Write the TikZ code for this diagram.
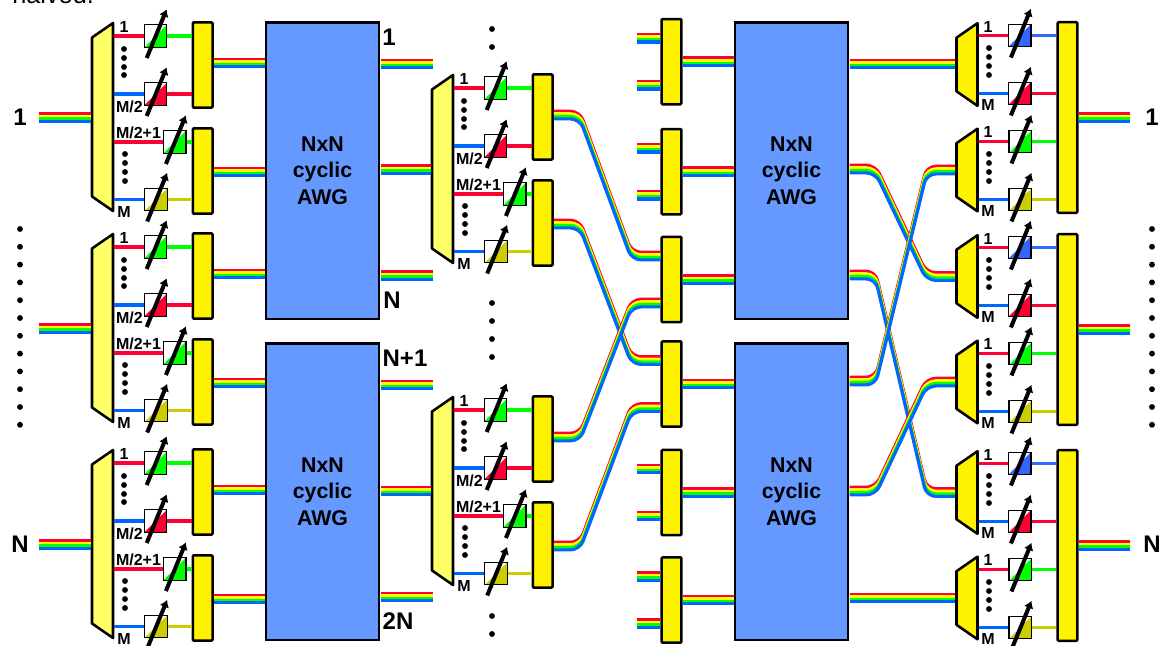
\documentclass[tikz,border=0pt]{standalone}
\usepackage{fontspec}
\setmainfont{Liberation Sans}
\usetikzlibrary{arrows.meta,calc}
\definecolor{bandred}{RGB}{255,0,51}
\definecolor{bandyellow}{RGB}{255,255,0}
\definecolor{bandgreen}{RGB}{0,255,0}
\definecolor{bandblue}{RGB}{0,102,255}
\definecolor{voablue}{RGB}{51,102,255}
\definecolor{voaolive}{RGB}{204,204,0}
\definecolor{awgblue}{RGB}{102,153,255}
\definecolor{paleyellow}{RGB}{255,255,102}
\newcommand{\bandlist}{bandred/2.9pt/2.2pt,bandyellow/0.97pt/2.2pt,bandgreen/-0.97pt/2.2pt,bandblue/-2.9pt/2.4pt}
\newcommand{\inband}[2]{%
  \path (#1 -| #2) coordinate (bandend);
  \foreach \bandc/\bando/\bandw in \bandlist
    \draw[draw=\bandc, line width=\bandw] ([yshift=\bando]#1) -- ([yshift=\bando]bandend);
}
\newcommand{\swerve}[2]{%
  \foreach \bandc/\bando/\bandw in \bandlist
    \draw[draw=\bandc, line width=\bandw, rounded corners=7pt] ([yshift=\bando]#1)
      -- ([xshift=19.5pt,yshift=\bando]#1) -- ([xshift=-21.5pt,yshift=\bando]#2) -- ([yshift=\bando]#2);
}
\newcommand{\tunable}[3]{%
  \node[voabox=#3] (#1) at (#2) {};
  \draw[tuner] ([shift={(-8.8,22)}]#1.center) -- ([shift={(11.2,-26.7)}]#1.center);
}
\newcommand{\taper}[4]{%
  \node[demux, minimum height=#3] (#1) at (#2) {};
  \filldraw[demuxline, fill=#4] (#1.north east) -- (#1.south east)
    -- ([yshift=10.9pt]#1.south west) -- ([yshift=-10.9pt]#1.north west) -- cycle;
  \coordinate (#1w) at ([xshift=-0.95pt]#1.west);
  \coordinate (#1e) at ([xshift=0.95pt]#1.east);
}
\newcommand{\ingroup}[3]{%
  \begin{scope}[shift={(#2,#3)}]
  \taper{#1d}{102.5,117}{141pt}{paleyellow}
  \node[muxbox] (#1ma) at (202.7,65) {};
  \node[muxbox] (#1mb) at (202.7,171) {};
  \tunable{#1va}{155.5,36}{bandgreen}
  \tunable{#1vb}{155.5,94}{bandred}
  \tunable{#1vc}{174.7,142}{bandgreen}
  \tunable{#1vd}{156,199.5}{voaolive}
  \draw[sig, draw=bandred] (#1de |- #1va.west) -- (#1va.west);
  \draw[sig, draw=bandblue] (#1de |- #1vb.west) -- (#1vb.west);
  \draw[sig, draw=bandred] (#1de |- #1vc.west) -- (#1vc.west);
  \draw[sig, draw=bandblue] (#1de |- #1vd.west) -- (#1vd.west);
  \draw[sig, draw=bandgreen] (#1va.east) -- (#1va.east -| #1ma.west);
  \draw[sig, draw=bandred] (#1vb.east) -- (#1vb.east -| #1ma.west);
  \draw[sig, draw=bandgreen] (#1vc.east) -- (#1vc.east -| #1mb.west);
  \draw[sig, draw=voaolive] (#1vd.east) -- (#1vd.east -| #1mb.west);
  \node[lbl] (#1la) at (124,27) {1};
  \node[lbl] (#1lb) at (129.5,107) {M/2};
  \node[lbl] (#1lc) at (138.5,133) {M/2+1};
  \node[lbl] (#1ld) at (124,212) {M};
  \foreach \y [count=\i] in {49,58,67,75} \node[blob] (#1ua\i) at (124,\y) {};
  \foreach \y [count=\i] in {154,163,172,181} \node[blob] (#1ub\i) at (125,\y) {};
  \coordinate (#1oa) at ([yshift=1.5pt]#1ma.east);
  \coordinate (#1ob) at ([yshift=-0.75pt]#1mb.east);
  \end{scope}
}
\newcommand{\outgroup}[3]{%
  \begin{scope}[shift={(#2,#3)}]
  \taper{#1da}{967,64.5}{62pt}{yellow}
  \taper{#1db}{967,170}{62pt}{yellow}
  \node[muxbox, minimum height=143pt] (#1m) at (1067.5,117.5) {};
  \tunable{#1va}{1019.7,35.5}{voablue}
  \tunable{#1vb}{1019.7,93.5}{bandred}
  \tunable{#1vc}{1020.3,141.5}{bandgreen}
  \tunable{#1vd}{1020.3,199.5}{voaolive}
  \draw[sig, draw=bandred] (#1dae |- #1va.west) -- (#1va.west);
  \draw[sig, draw=bandblue] (#1dae |- #1vb.west) -- (#1vb.west);
  \draw[sig, draw=bandred] (#1dbe |- #1vc.west) -- (#1vc.west);
  \draw[sig, draw=bandblue] (#1dbe |- #1vd.west) -- (#1vd.west);
  \draw[sig, draw=voablue] (#1va.east) -- (#1va.east -| #1m.west);
  \draw[sig, draw=bandred] (#1vb.east) -- (#1vb.east -| #1m.west);
  \draw[sig, draw=bandgreen] (#1vc.east) -- (#1vc.east -| #1m.west);
  \draw[sig, draw=voaolive] (#1vd.east) -- (#1vd.east -| #1m.west);
  \node[lbl] (#1la) at (988,27) {1};
  \node[lbl] (#1lb) at (988,105) {M};
  \node[lbl] (#1lc) at (988,132) {1};
  \node[lbl] (#1ld) at (988,211) {M};
  \foreach \y [count=\i] in {48,57,66,75} \node[blob] (#1ua\i) at (989,\y) {};
  \foreach \y [count=\i] in {154,163,172,181} \node[blob] (#1ub\i) at (989,\y) {};
  \end{scope}
}
\newcommand{\midmux}[2]{%
  \node[muxbox] (#1) at (671.5,#2) {};
  \coordinate (#1u) at ($(#1.west)+(0,-23.5)$);
  \coordinate (#1l) at ($(#1.west)+(0,23.5)$);
}
\newcommand{\stub}[1]{%
  \coordinate (#1s) at ($(#1)+(-23,0)$);
  \inband{#1s}{#1}
}
\begin{document}
\begin{tikzpicture}[
  x=0.75pt, y=-0.75pt,
  awgbox/.style={rectangle, draw=black, line width=2pt, fill=awgblue, inner sep=0pt,
    minimum width=84.75pt, minimum height=222.5pt, align=center,
    font=\fontsize{16}{20}\selectfont\bfseries},
  muxbox/.style={rectangle, rounded corners=0.8pt, draw=black, line width=1.9pt, fill=yellow,
    inner sep=0pt, minimum width=14.8pt, minimum height=64pt},
  demux/.style={rectangle, inner sep=0pt, outer sep=0pt, minimum width=15.75pt},
  demuxline/.style={draw=black, line width=1.9pt, line join=round},
  voabox/.style={rectangle, draw=black, line width=0.9pt, fill=white, inner sep=0pt, minimum size=17pt,
    path picture={\fill[#1] (path picture bounding box.south west) -- (path picture bounding box.north east)
      -- (path picture bounding box.south east) -- cycle;}},
  tuner/.style={-{Latex[length=5.5pt,width=7.5pt]}, line width=3pt, draw=black},
  sig/.style={line width=2.6pt},
  lbl/.style={inner sep=0pt, font=\fontsize{12}{14}\selectfont\bfseries},
  biglbl/.style={inner sep=0pt, font=\fontsize{18}{20}\selectfont\bfseries},
  blob/.style={circle, fill=black, inner sep=0pt, minimum size=4.4pt}
]
\useasboundingbox (0,0) rectangle (1160,646);
\node[anchor=base west, inner sep=0pt, font=\fontsize{19}{22}\selectfont] (cutoff) at (12,3) {halved.};

\node[awgbox] (awga) at (322.5,170.7) {NxN\\cyclic\\AWG};
\node[awgbox] (awgb) at (322.5,491.5) {NxN\\cyclic\\AWG};
\node[awgbox] (awgc) at (791.5,170.7) {NxN\\cyclic\\AWG};
\node[awgbox] (awgd) at (791.5,491.5) {NxN\\cyclic\\AWG};

\ingroup{ia}{0}{0}
\ingroup{ib}{0}{211}
\ingroup{ic}{0}{427}
\ingroup{ca}{340}{52}
\ingroup{cb}{340}{374}
\outgroup{oa}{0}{0}
\outgroup{ob}{0}{212}
\outgroup{oc}{0}{428}

\midmux{ma}{61.7}
\midmux{mb}{171.7}
\midmux{mc}{279.5}
\midmux{md}{384}
\midmux{me}{492.5}
\midmux{mf}{600}

\coordinate (ina) at (39,117.5);
\coordinate (inb) at (39,328.5);
\coordinate (inc) at (39,544.5);
\inband{ina}{iadw}
\inband{inb}{ibdw}
\inband{inc}{icdw}

\inband{iaoa}{awga.west}
\inband{iaob}{awga.west}
\inband{iboa}{awga.west}
\inband{ibob}{awgb.west}
\inband{icoa}{awgb.west}
\inband{icob}{awgb.west}

\coordinate (aport1) at (380.5,64);
\coordinate (aport2) at (380.5,169.5);
\coordinate (aport3) at (380.5,275.5);
\coordinate (aport4) at (380.5,385);
\coordinate (aport5) at (380.5,491);
\coordinate (aport6) at (380.5,597);
\coordinate (afree1) at (433,64);
\coordinate (afree3) at (433,275.5);
\coordinate (afree4) at (433,385);
\coordinate (afree6) at (433,597);
\inband{aport1}{afree1}
\inband{aport2}{cadw}
\inband{aport3}{afree3}
\inband{aport4}{afree4}
\inband{aport5}{cbdw}
\inband{aport6}{afree6}

\swerve{caoa}{mcu}
\swerve{caob}{mdu}
\swerve{cboa}{mcl}
\swerve{cbob}{mdl}

\stub{mau}
\stub{mal}
\stub{mbu}
\stub{mbl}
\stub{meu}
\stub{mel}
\stub{mfu}
\stub{mfl}
\inband{ma.east}{awgc.west}
\inband{mb.east}{awgc.west}
\inband{mc.east}{awgc.west}
\inband{md.east}{awgd.west}
\inband{me.east}{awgd.west}
\inband{mf.east}{awgd.west}

\coordinate (cport1) at (849.5,64);
\coordinate (cport2) at (849.5,169);
\coordinate (cport3) at (849.5,275);
\coordinate (cport4) at (849.5,381);
\coordinate (cport5) at (849.5,491);
\coordinate (cport6) at (849.5,598);
\inband{cport1}{oadaw}
\swerve{cport2}{obdaw}
\swerve{cport3}{ocdaw}
\swerve{cport4}{oadbw}
\swerve{cport5}{obdbw}
\inband{cport6}{ocdbw}

\coordinate (outa) at (1130,117.5);
\coordinate (outc) at (1130,328.5);
\coordinate (oute) at (1130,545.5);
\inband{oam.east}{outa}
\inband{obm.east}{outc}
\inband{ocm.east}{oute}

\node[biglbl] (lone) at (20,117) {1};
\node[biglbl] (lenn) at (20,544) {N};
\node[biglbl] (rone) at (1152,117) {1};
\node[biglbl] (renn) at (1152,544) {N};
\node[biglbl] (pa) at (389,37) {1};
\node[biglbl] (pb) at (392,300.5) {N};
\node[biglbl] (pc) at (405,358.5) {N+1};
\node[biglbl] (pd) at (398,621) {2N};

\foreach \y [count=\i] in {229,246.8,...,426} {
  \node[blob] (ldot\i) at (20,\y) {};
  \node[blob] (rdot\i) at (1152,\y) {};
}
\foreach \y [count=\i] in {29,47,303,321,339,357,616,634} \node[blob] (cdot\i) at (492,\y) {};
\end{tikzpicture}
\end{document}
